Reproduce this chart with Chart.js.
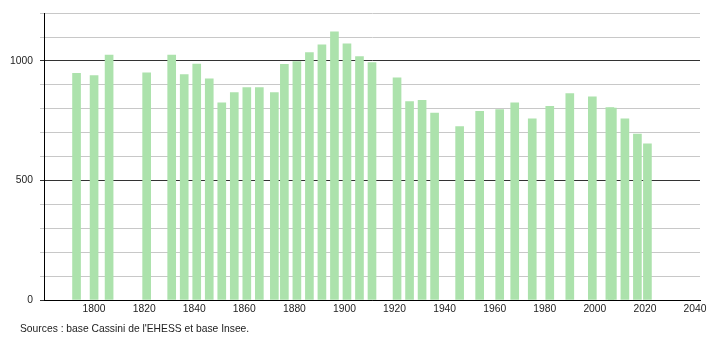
<!DOCTYPE html>
<html>
<head>
<meta charset="utf-8">
<script src="https://cdn.jsdelivr.net/npm/chart.js@4/dist/chart.umd.min.js"></script>
<style>
html,body{margin:0;padding:0;background:#fff;}
canvas{display:block;}
</style>
</head>
<body>
<canvas id="c" width="710" height="340"></canvas>
<script>
// Census years and population values
const years = [1793,1800,1806,1821,1831,1836,1841,1846,1851,1856,1861,1866,1872,1876,1881,1886,1891,1896,1901,1906,1911,1921,1926,1931,1936,1946,1954,1962,1968,1975,1982,1990,1999,2006,2007,2012,2017,2021];
const population = [948,939,1025,950,1025,943,987,925,825,868,889,889,868,986,997,1035,1068,1122,1072,1018,993,930,830,835,782,726,789,797,825,758,810,864,850,805,803,758,694,653];
const xTickLabels = [1800,1820,1840,1860,1880,1900,1920,1940,1960,1980,2000,2020,2040];
const yGridValues = [0,100,200,300,400,500,600,700,800,900,1000,1100,1200];
const yTickLabels = [0,500,1000];
const sourceText = "Sources : base Cassini de l'EHESS et base Insee.";

const FONT = 'Liberation Sans, Arial, Helvetica, sans-serif';

const sourcePlugin = {
  id: 'sourceText',
  afterDraw(chart) {
    const ctx = chart.ctx;
    ctx.save();
    ctx.font = '10.3px ' + FONT;
    ctx.fillStyle = '#222';
    ctx.textBaseline = 'middle';
    ctx.textAlign = 'left';
    ctx.fillText(sourceText, 20, 329);
    ctx.restore();
  }
};

new Chart(document.getElementById('c'), {
  type: 'bar',
  data: {
    datasets: [{
      data: years.map((y, i) => ({ x: y, y: population[i] })),
      backgroundColor: 'rgb(172,226,172)',
      borderWidth: 0,
      barThickness: 8
    }]
  },
  options: {
    responsive: false,
    animation: false,
    layout: { padding: { left: 0, right: 10, top: 7, bottom: 0 } },
    plugins: { legend: { display: false }, tooltip: { enabled: false } },
    scales: {
      x: {
        type: 'linear',
        min: 1780,
        max: 2042,
        offset: false,
        afterBuildTicks: s => { s.ticks = xTickLabels.map(v => ({ value: v })); },
        afterFit: s => { s.height = 40; },
        grid: { display: false, drawTicks: false },
        border: { display: true, color: '#000', width: 1 },
        ticks: {
          autoSkip: false, maxRotation: 0, padding: 3,
          color: '#222', font: { family: FONT, size: 10.3 },
          callback: v => String(v)
        }
      },
      y: {
        min: 0,
        max: 1200,
        afterBuildTicks: s => { s.ticks = yGridValues.map(v => ({ value: v })); },
        afterFit: s => { s.width = 44; },
        grid: {
          color: c => (c.tick && c.tick.value % 500 === 0) ? '#333' : '#c8c8c8',
          tickLength: 4,
          lineWidth: 1
        },
        border: { display: true, color: '#000', width: 1 },
        ticks: {
          padding: 7,
          color: '#222', font: { family: FONT, size: 10.3 },
          callback: v => yTickLabels.includes(v) ? String(v) : ''
        }
      }
    }
  },
  plugins: [sourcePlugin]
});
</script>
</body>
</html>
